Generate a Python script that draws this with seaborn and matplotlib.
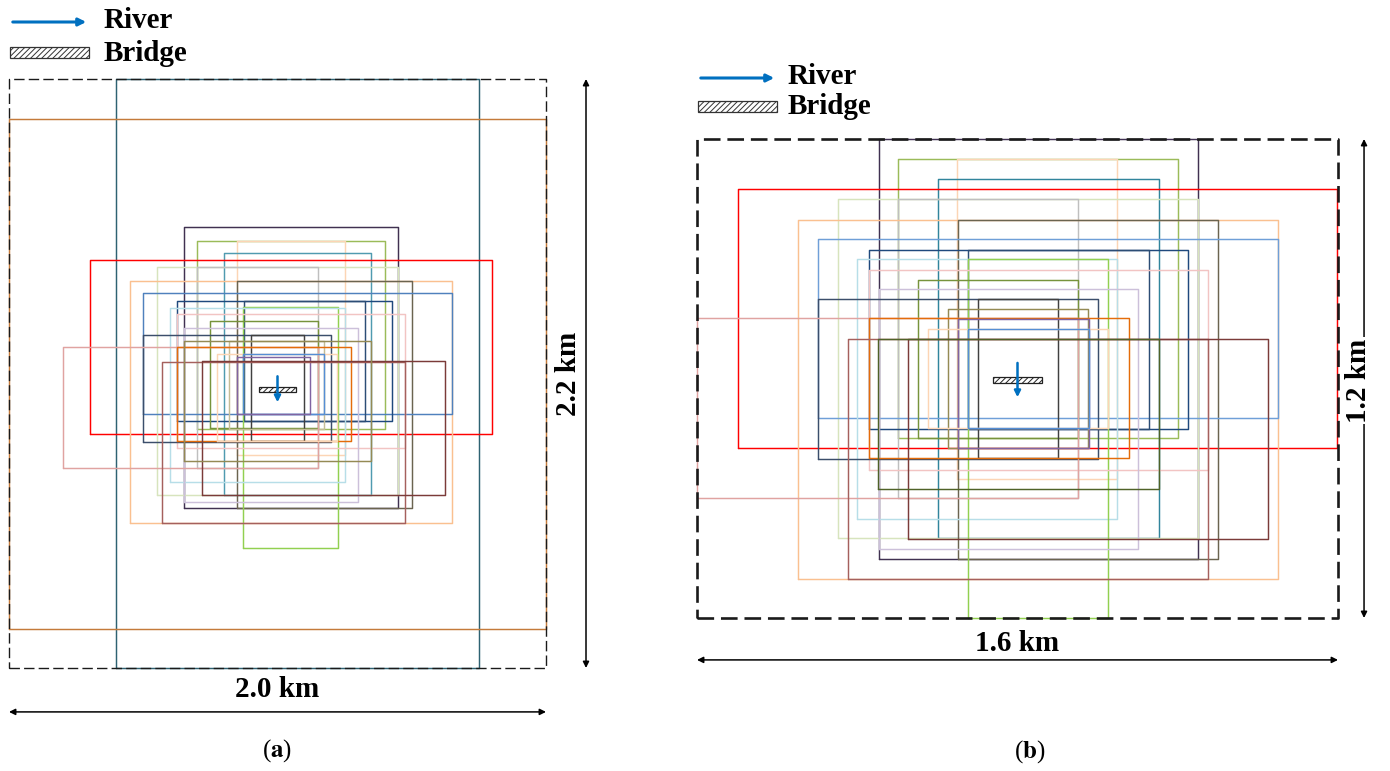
import numpy as np
import pandas as pd
import matplotlib
matplotlib.use('Agg')
import matplotlib.pyplot as plt
import seaborn as sns
from matplotlib.patches import Rectangle

sns.set_theme(style='white')
plt.rcParams['font.family'] = ['Liberation Serif', 'DejaVu Serif']
plt.rcParams['mathtext.fontset'] = 'stix'
plt.rcParams['hatch.linewidth'] = 0.7
plt.rcParams['text.color'] = 'black'

# ---- panel (a): 2.0 km x 2.2 km domain, boxes in km (left, bottom, right, top)
a_width, a_height = 2.0, 2.2
a_x0 = [0.40, 0.00, 0.65, 0.70, 0.85, 0.80, 0.30, 0.55, 0.70, 0.45, 0.85, 0.50, 0.625, 0.875, 0.87,
        0.60, 0.625, 0.75, 0.65, 0.50, 0.90, 0.82, 0.20, 0.625, 0.775, 0.87, 0.85, 0.57, 0.72, 0.65]
a_y0 = [0.00, 0.146, 0.597, 0.894, 0.794, 0.645, 0.873, 0.647, 0.748, 0.543, 0.597, 0.949, 0.921, 0.921, 0.447,
        0.694, 0.821, 0.896, 0.620, 0.844, 0.848, 0.894, 0.748, 0.848, 0.848, 0.949, 0.949, 0.543, 0.645, 0.772]
a_x1 = [1.75, 2.00, 1.45, 1.40, 1.25, 1.35, 1.80, 1.45, 1.15, 1.65, 1.50, 1.65, 1.425, 1.325, 1.225,
        1.25, 1.475, 1.15, 1.30, 1.20, 1.10, 1.175, 1.15, 1.275, 1.22, 1.175, 1.12, 1.475, 1.625, 1.35]
a_y1 = [2.20, 2.05, 1.646, 1.596, 1.596, 1.549, 1.523, 1.499, 1.499, 1.445, 1.445, 1.40, 1.372, 1.372, 1.35,
        1.346, 1.321, 1.296, 1.271, 1.245, 1.245, 1.221, 1.20, 1.199, 1.172, 1.172, 1.161, 1.144, 1.148, 1.221]

# ---- panel (b): 1.6 km x 1.2 km domain
b_width, b_height = 1.6, 1.2
b_x0 = [0.454, 0.502, 0.650, 0.602, 0.103, 0.351, 0.502, 0.251, 0.652, 0.301, 0.429, 0.677, 0.399, 0.677,
        0.429, 0.552, 0.454, 0.301, 0.701, 0.627, 0.0, 0.429, 0.652, 0.577, 0.677, 0.378, 0.527, 0.453]
b_y0 = [0.148, 0.450, 0.347, 0.200, 0.425, 0.200, 0.301, 0.098, 0.148, 0.500, 0.474, 0.474, 0.248, 0.0,
        0.372, 0.450, 0.173, 0.398, 0.400, 0.426, 0.301, 0.400, 0.426, 0.476, 0.476, 0.098, 0.198, 0.322]
b_x1 = [1.251, 1.201, 1.048, 1.152, 1.598, 1.250, 0.950, 1.451, 1.301, 1.451, 1.226, 1.127, 1.048, 1.026,
        1.276, 0.950, 1.102, 1.001, 0.900, 0.975, 0.950, 1.078, 0.978, 1.025, 0.978, 1.276, 1.425, 1.152]
b_y1 = [1.199, 1.150, 1.150, 1.100, 1.075, 1.050, 1.050, 0.998, 0.998, 0.950, 0.923, 0.923, 0.899, 0.900,
        0.873, 0.848, 0.823, 0.798, 0.798, 0.773, 0.751, 0.751, 0.749, 0.723, 0.723, 0.699, 0.699, 0.699]

a_colors = ['#2e6272', '#c47a3a', '#403151', '#9bbb59', '#fcd5b5', '#4f9bb0', '#ff0000', '#d7e4bd',
            '#bfbfbf', '#fac090', '#6b6450', '#4f81bd', '#1f497d', '#2c4d75', '#92d050', '#b7dee8',
            '#f2c4c3', '#77933c', '#ccc0da', '#3b4e6b', '#404040', '#c4bd97', '#e0a3a1', '#e46c0a',
            '#fcd5b4', '#558ed5', '#8064a2', '#a5605d', '#7b3b39', '#948a54']
b_colors = ['#403151', '#9bbb59', '#fcd5b5', '#31859c', '#ff0000', '#d7e4bd', '#bfbfbf', '#fac090',
            '#6b6450', '#6f9fd8', '#1f497d', '#2c4d75', '#b7dee8', '#92d050', '#f2c4c3', '#77933c',
            '#ccc0da', '#3b4e6b', '#404040', '#948a54', '#e0a3a1', '#e46c0a', '#8064a2', '#fcd5b4',
            '#558ed5', '#a5605d', '#7b3b39', '#4f6228']

# bridge location (km) and river flow (pointing south)
a_bridge = (1.0, 1.041)
b_bridge = (0.80, 0.596)

W, H = 1390, 771
fig = plt.figure(figsize=(W / 100, H / 100), dpi=100)


def outline(x0, y0, x1, y1):
    rows = []
    for i in range(len(x0)):
        xs = [x0[i], x1[i], x1[i], x0[i], x0[i]]
        ys = [y0[i], y0[i], y1[i], y1[i], y0[i]]
        for k in range(5):
            rows.append(('box%02d' % i, k, xs[k], ys[k]))
    return pd.DataFrame(rows, columns=['box', 'k', 'x', 'y'])


def panel(px, w, h, x0, y0, x1, y1, colors, bridge, bridge_size, dash_lw, dashes):
    l, t, r, b = px
    ax = fig.add_axes([l / W, 1 - b / H, (r - l) / W, (b - t) / H])
    df = outline(x0, y0, x1, y1)
    pal = {'box%02d' % i: c for i, c in enumerate(colors)}
    sns.lineplot(data=df, x='x', y='y', hue='box', palette=pal, sort=False,
                 estimator=None, legend=False, lw=1.05, ax=ax)
    for ln in ax.lines:
        ln.set_clip_on(False)
    ax.plot([0, w, w, 0, 0], [0, 0, h, h, 0], color='#1a1a1a', lw=dash_lw,
            ls=(0, dashes), clip_on=False, zorder=5)
    bw, bh, alen = bridge_size
    ax.add_patch(Rectangle((bridge[0] - bw / 2, bridge[1] - bh / 2), bw, bh,
                           facecolor='white', edgecolor='#222222', hatch='//////',
                           lw=0.9, zorder=6))
    ax.annotate('', xy=(bridge[0], bridge[1] - alen * 0.5), xytext=(bridge[0], bridge[1] + alen * 0.5),
                arrowprops=dict(arrowstyle='-|>', color='#0070c0', lw=1.8, mutation_scale=9,
                                shrinkA=0, shrinkB=0), zorder=7)
    ax.set_xlim(0, w)
    ax.set_ylim(0, h)
    ax.set_axis_off()
    return ax


ax_a = panel((9, 79, 546, 668), a_width, a_height, a_x0, a_y0, a_x1, a_y1, a_colors,
             a_bridge, (0.139, 0.02, 0.097), 1.0, (7.5, 3))
ax_b = panel((697, 139, 1338, 618), b_width, b_height, b_x0, b_y0, b_x1, b_y1, b_colors,
             b_bridge, (0.122, 0.017, 0.086), 1.9, (6.3, 2.6))

dim = dict(arrowstyle='<|-|>', color='black', lw=1.1, mutation_scale=9, shrinkA=0, shrinkB=0)
lab = dict(fontsize=21, fontweight='bold', ha='center', va='center')

# panel (a) dimensions
ax_a.annotate('', xy=(2.149, 0), xytext=(2.149, a_height), arrowprops=dim, annotation_clip=False)
ax_a.annotate('', xy=(0, -0.164), xytext=(a_width, -0.164), arrowprops=dim, annotation_clip=False)
ax_a.text(2.082, 1.10, '2.2 km', rotation=90, **lab)
ax_a.text(1.0, -0.082, '2.0 km', **lab)

# panel (b) dimensions
ax_b.annotate('', xy=(1.665, 0), xytext=(1.665, b_height), arrowprops=dim, annotation_clip=False)
ax_b.annotate('', xy=(0, -0.105), xytext=(b_width, -0.105), arrowprops=dim, annotation_clip=False)
ax_b.text(1.652, 0.595, '1.2 km', rotation=90, bbox=dict(fc='white', ec='none', pad=1), **lab)
ax_b.text(0.80, -0.063, '1.6 km', **lab)

# legends (figure pixel positions)
for (ax0, ax1, ay, by, tx) in [(10, 89, 22, 52.5, 104), (698, 777, 78, 106, 788)]:
    fig.add_artist(matplotlib.patches.FancyArrowPatch(
        (ax0 / W, 1 - ay / H), (ax1 / W, 1 - ay / H), transform=fig.transFigure,
        arrowstyle='-|>', color='#0070c0', lw=2.2, mutation_scale=11))
    fig.add_artist(Rectangle((ax0 / W, 1 - (by + 5.5) / H), (ax1 - ax0) / W, 11 / H,
                             transform=fig.transFigure, facecolor='white', edgecolor='#333333',
                             hatch='//////', lw=0.9))
    fig.text(tx / W, 1 - (ay - 1) / H, 'River', fontsize=21, fontweight='bold', va='center')
    fig.text(tx / W, 1 - (by + 1) / H, 'Bridge', fontsize=21, fontweight='bold', va='center')

fig.text(277 / W, 1 - 751 / H, r'($\mathbf{a}$)', fontsize=18, ha='center', va='center')
fig.text(1030 / W, 1 - 752 / H, r'($\mathbf{b}$)', fontsize=18, ha='center', va='center')

fig.savefig('out.png', dpi=100)
